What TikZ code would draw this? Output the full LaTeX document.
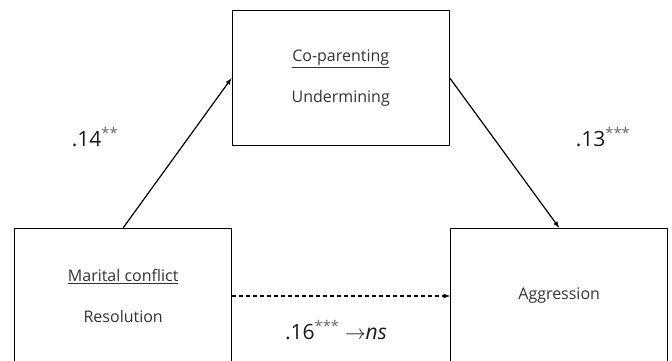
\documentclass[tikz,border=0pt]{standalone}
\usepackage{fontspec}
\setmainfont{Open Sans}
\usetikzlibrary{arrows,positioning}

\begin{document}
\begin{tikzpicture}[x=1pt, y=-1pt,
    block/.style={rectangle, draw, line width=1.4pt, minimum width=217pt, minimum height=135pt, align=center, text=black!80, font=\fontsize{16}{19}\selectfont},
    arrow/.style={->, >=latex, line width=1.2pt},
    coef/.style={text=black!90, font=\fontsize{21}{24}\selectfont},
    stars/.style={text=black!60}
]
    \useasboundingbox (0,0) rectangle (672,361);
    \clip (0,0) rectangle (672,361);

    \node[block] (coparent) at (340.7,78.2) {\underline{Co-parenting}\\[22pt]Undermining};
    \node[block] (marital) at (123.2,296) {\underline{Marital conflict}\\[22pt]Resolution};
    \node[block, right=217.6pt of marital] (aggr) {Aggression};

    \node[coef] (b14) at (95,137) {.14\textsuperscript{\textcolor{black!60}{**}}};
    \node[coef] (b13) at (603,137) {.13\textsuperscript{\textcolor{black!60}{***}}};
    \node[coef] (b16) at (336,330) {.16\textsuperscript{\textcolor{black!60}{***}} $\rightarrow$\textit{ns}};

    \draw[arrow] (marital.north) -- (coparent.west);
    \draw[arrow] (coparent.east) -- (aggr.north);
    \draw[arrow, dash pattern=on 4pt off 3pt] (marital.east) -- (aggr.west);
\end{tikzpicture}
\end{document}
